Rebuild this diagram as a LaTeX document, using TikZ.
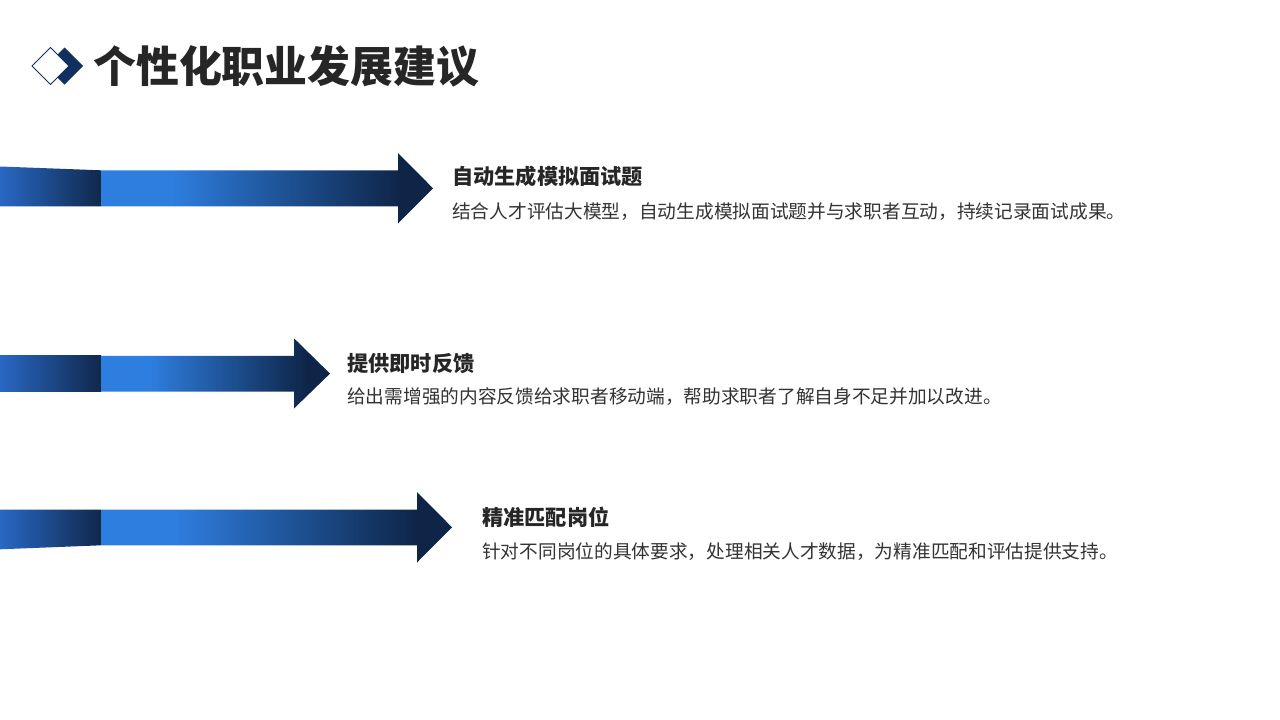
\documentclass[tikz,border=0pt]{standalone}
\usepackage{fontspec}
\setmainfont{Noto Sans CJK SC}
\usetikzlibrary{positioning}
\definecolor{lightblue}{HTML}{2E7EE0}
\definecolor{darknavy}{HTML}{0E2548}
\definecolor{piecel}{HTML}{2968C4}
\definecolor{piecer}{HTML}{10284C}
\definecolor{txt}{HTML}{262626}
\definecolor{bodytxt}{HTML}{333333}
\definecolor{iconnavy}{HTML}{0F3060}
\pgfdeclarehorizontalshading{arrowshade}{100bp}{%
  color(0bp)=(lightblue); color(25bp)=(lightblue); color(35.5bp)=(lightblue);
  color(70bp)=(darknavy); color(100bp)=(darknavy)}
\tikzset{
  arrowbody/.style={shading=arrowshade, draw=none},
  leftpiece/.style={left color=piecel, right color=piecer, draw=none},
  headtxt/.style={anchor=base west, inner sep=0pt, font=\fontsize{21.2}{24}\selectfont\bfseries, text=txt},
  bodytext/.style={anchor=base west, inner sep=0pt, font=\fontsize{18.7}{22}\selectfont, text=bodytxt},
}
\begin{document}
\begin{tikzpicture}[x=1pt,y=-1pt]
\useasboundingbox[fill=white] (0,0) rectangle (1280,720);

% title icon
\fill[iconnavy] (64.5,47.5) -- (83,66) -- (64.5,84.5) -- (46,66) -- cycle;
\draw[iconnavy, fill=white, line width=0.8pt] (50.5,47.5) -- (69,66) -- (50.5,84.5) -- (32,66) -- cycle;
\node[anchor=base west, inner sep=0pt, font=\fontsize{42.9}{48}\selectfont\bfseries, text=txt] (title) at (93,82) {个性化职业发展建议};

% arrow 1
\shade[leftpiece] (0,166.5) -- (101,170.3) -- (101,206.3) -- (0,206.3) -- cycle;
\shade[arrowbody] (101,170.3) -- (398,170.3) -- (398,153) -- (433,188.3) -- (398,223.5) -- (398,206.3) -- (101,206.3) -- cycle;
\node[headtxt] (h1) at (452,184.5) {自动生成模拟面试题};
\node[bodytext] (b1) at (452,218) {结合人才评估大模型，自动生成模拟面试题并与求职者互动，持续记录面试成果。};

% arrow 2
\shade[leftpiece] (0,355.8) -- (101,355.8) -- (101,391.5) -- (0,391.5) -- cycle;
\shade[arrowbody] (101,355.8) -- (294,355.8) -- (294,338.3) -- (330,373.6) -- (294,408.5) -- (294,391.5) -- (101,391.5) -- cycle;
\node[headtxt] (h2) at (347,371) {提供即时反馈};
\node[bodytext] (b2) at (347,403.5) {给出需增强的内容反馈给求职者移动端，帮助求职者了解自身不足并加以改进。};

% arrow 3
\shade[leftpiece] (0,509.5) -- (101,509.5) -- (101,545.3) -- (0,549.3) -- cycle;
\shade[arrowbody] (101,509.5) -- (417,509.5) -- (417,492) -- (452,527.3) -- (417,562.5) -- (417,545.3) -- (101,545.3) -- cycle;
\node[headtxt] (h3) at (482,525.5) {精准匹配岗位};
\node[bodytext] (b3) at (482,558.5) {针对不同岗位的具体要求，处理相关人才数据，为精准匹配和评估提供支持。};
\end{tikzpicture}
\end{document}
